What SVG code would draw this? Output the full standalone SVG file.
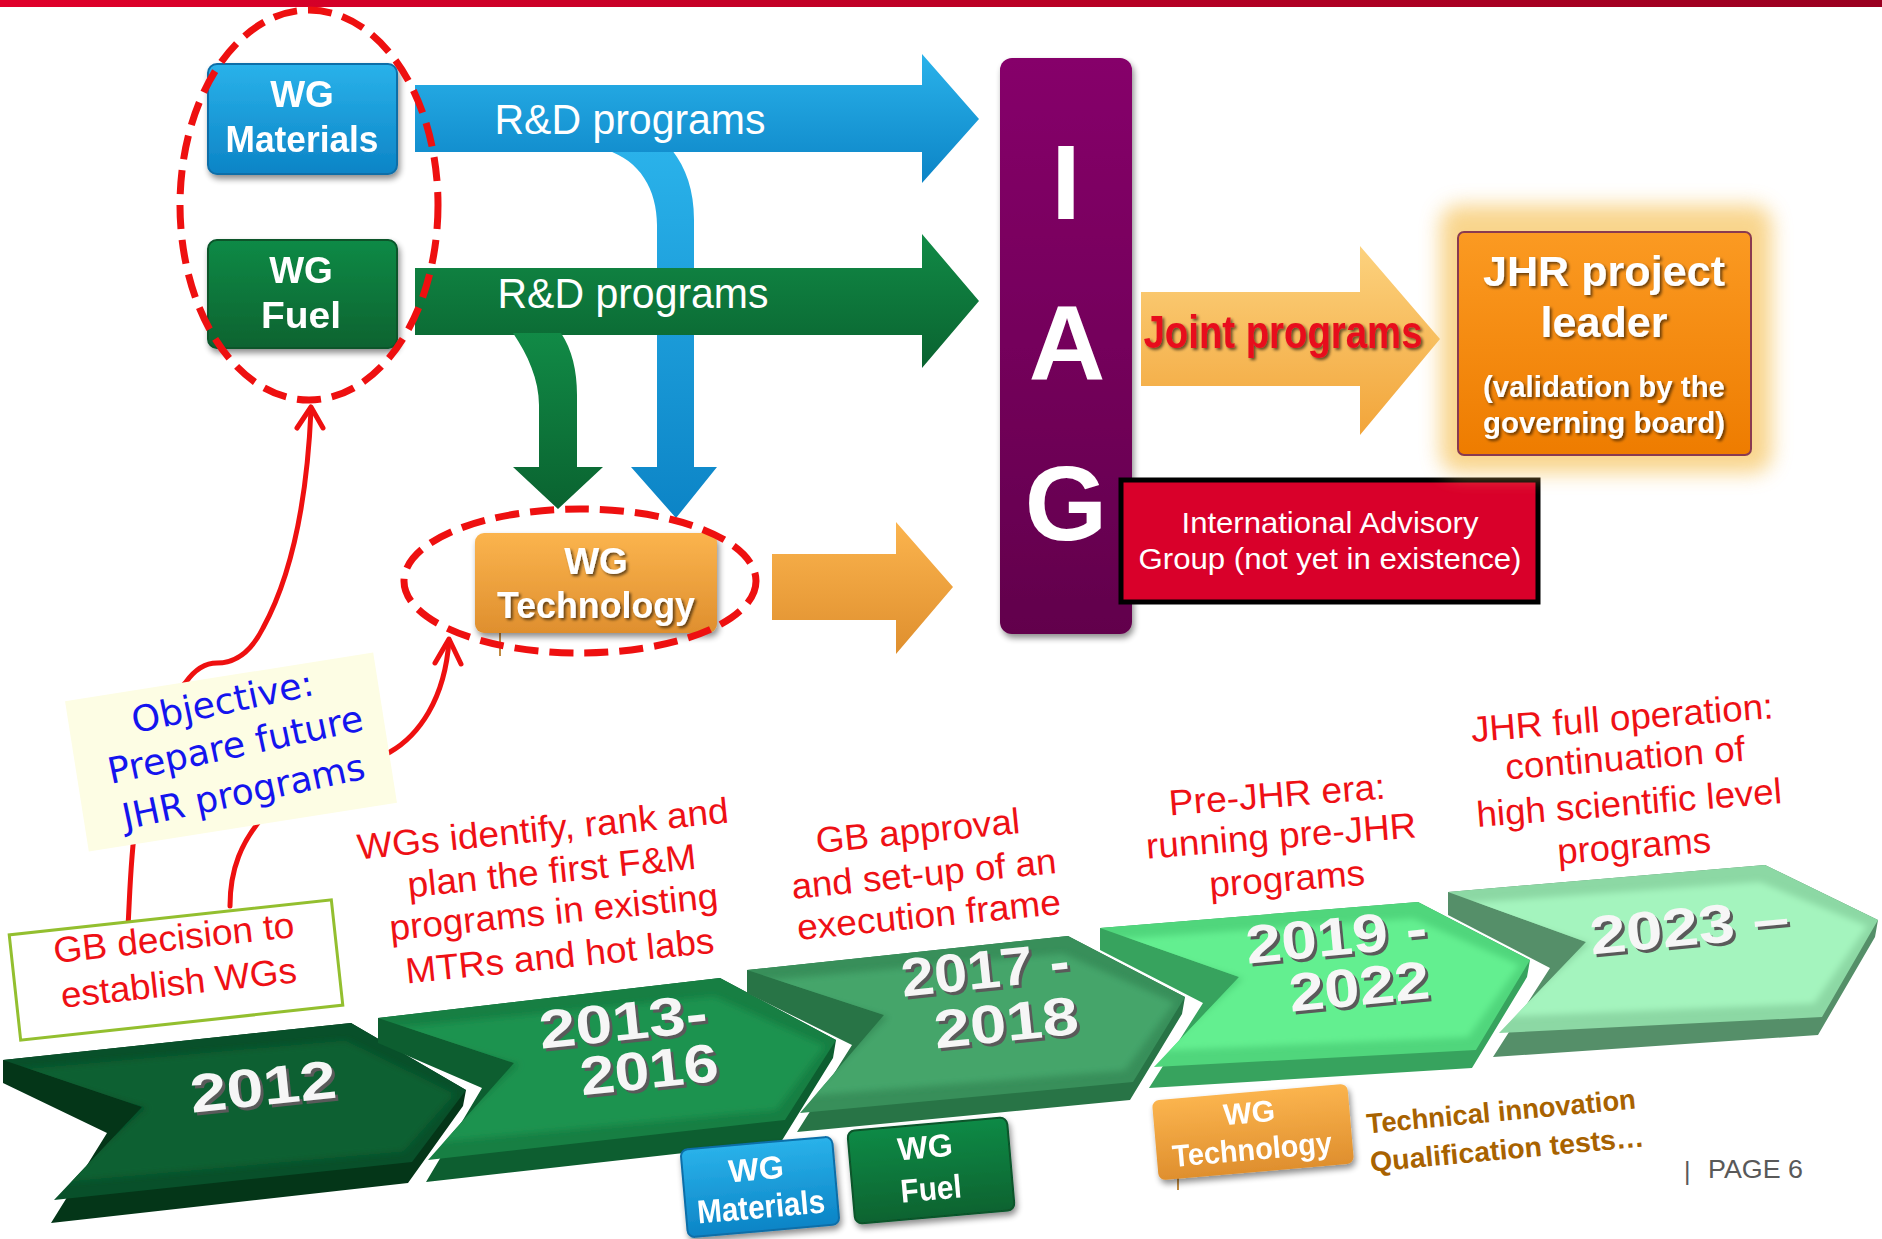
<svg xmlns="http://www.w3.org/2000/svg" width="1882" height="1239" viewBox="0 0 1882 1239">
<defs>
<style>
.t{font-family:"Liberation Sans",Arial,Helvetica,sans-serif}
.b{font-weight:bold}
.w{fill:#ffffff}
.lbl{font-family:"Liberation Sans",Arial,sans-serif;font-size:36px;fill:#ee1015;text-anchor:middle}
.yr{font-family:"Liberation Sans",Arial,sans-serif;font-size:54px;font-weight:bold;text-anchor:middle}
.ys{fill:#5a5a5a}
.yw{fill:#f6f6f6}
.box{font-family:"Liberation Sans",Arial,sans-serif;font-weight:bold;fill:#ffffff;text-anchor:middle}
.dash{fill:none;stroke:#ee1010;stroke-width:7;stroke-dasharray:24 11}
.curve{fill:none;stroke:#ee1010;stroke-width:5;stroke-linecap:round;stroke-linejoin:round}
.stub{stroke:#c08a40;stroke-width:2}
</style>
<linearGradient id="gBar" x1="0" y1="0" x2="1" y2="0"><stop offset="0" stop-color="#e0002a"/><stop offset="1" stop-color="#9a0020"/></linearGradient>
<linearGradient id="gBlue" x1="0" y1="0" x2="0" y2="1"><stop offset="0" stop-color="#2ab2ea"/><stop offset="1" stop-color="#0c84c6"/></linearGradient>
<linearGradient id="gGreen" x1="0" y1="0" x2="0" y2="1"><stop offset="0" stop-color="#118a46"/><stop offset="1" stop-color="#0a6330"/></linearGradient>
<linearGradient id="gOrange" x1="0" y1="0" x2="0" y2="1"><stop offset="0" stop-color="#fbb44e"/><stop offset="1" stop-color="#df8f2e"/></linearGradient>
<linearGradient id="gJoint" x1="0" y1="0" x2="0" y2="1"><stop offset="0" stop-color="#fcd27e"/><stop offset="1" stop-color="#f2a53a"/></linearGradient>
<linearGradient id="gPurple" x1="0" y1="0" x2="0" y2="1"><stop offset="0" stop-color="#86006a"/><stop offset="1" stop-color="#62004c"/></linearGradient>
<linearGradient id="gJhr" x1="0" y1="0" x2="0" y2="1"><stop offset="0" stop-color="#fb9a22"/><stop offset="1" stop-color="#ee7c00"/></linearGradient>
<filter id="sh" x="-20%" y="-20%" width="140%" height="150%"><feGaussianBlur in="SourceAlpha" stdDeviation="3"/><feOffset dx="2" dy="4"/><feComponentTransfer><feFuncA type="linear" slope="0.45"/></feComponentTransfer><feMerge><feMergeNode/><feMergeNode in="SourceGraphic"/></feMerge></filter>
<filter id="glow" x="-30%" y="-30%" width="160%" height="160%"><feGaussianBlur stdDeviation="10"/></filter>
<filter id="soft" x="-10%" y="-20%" width="120%" height="140%"><feGaussianBlur stdDeviation="4"/></filter>
<filter id="tsh" x="-10%" y="-20%" width="120%" height="150%"><feGaussianBlur in="SourceAlpha" stdDeviation="1.5"/><feOffset dx="2" dy="2"/><feComponentTransfer><feFuncA type="linear" slope="0.6"/></feComponentTransfer><feMerge><feMergeNode/><feMergeNode in="SourceGraphic"/></feMerge></filter>
<clipPath id="c1"><polygon points="3,1060 351,1023 466,1090 412,1162 54,1200 142,1107"/></clipPath>
<clipPath id="c2"><polygon points="378,1018 720,978 836,1040 785,1120 428,1160 514,1063"/></clipPath>
<clipPath id="c3"><polygon points="747,970 1068,936 1185,997 1133,1082 800,1113 884,1015"/></clipPath>
<clipPath id="c4"><polygon points="1100,928 1418,902 1530,960 1476,1050 1154,1067 1239,977"/></clipPath>
<clipPath id="c5"><polygon points="1448,892 1765,865 1878,920 1822,1017 1499,1033 1586,942"/></clipPath>
</defs>
<rect width="1882" height="1239" fill="#ffffff"/>
<rect id="topbar" x="0" y="0" width="1882" height="7" fill="url(#gBar)"/>

<g id="connectors">
  <path id="blue-branch" d="M606,150 C640,160 657,190 657,225 L657,467 L631,467 L676,518 L717,467 L694,467 L694,220 C694,190 686,168 672,150 Z" fill="url(#gBlue)"/>
  <g id="blue-rd">
    <polygon points="415,85 922,85 922,54 979,119 922,183 922,152 415,152" fill="url(#gBlue)"/>
    <text class="t" x="630" y="134" font-size="43" fill="#ffffff" text-anchor="middle" textLength="271" lengthAdjust="spacingAndGlyphs">R&amp;D programs</text>
  </g>
  <g id="green-rd">
    <polygon points="415,268 922,268 922,234 979,301 922,368 922,335 415,335" fill="url(#gGreen)"/>
    <text class="t" x="633" y="308" font-size="43" fill="#ffffff" text-anchor="middle" textLength="271" lengthAdjust="spacingAndGlyphs">R&amp;D programs</text>
  </g>
  <path id="green-branch" d="M513,333 C528,355 539,380 539,405 L539,467 L513,467 L558,509 L603,467 L577,467 L577,395 C577,370 572,350 561,333 Z" fill="url(#gGreen)"/>
  <polygon id="tech-arrow" points="772,554 896,554 896,522 953,587 896,654 896,620 772,620" fill="url(#gOrange)"/>
  <g id="joint-arrow">
    <polygon points="1141,292 1360,292 1360,246 1440,339 1360,435 1360,386 1141,386" fill="url(#gJoint)"/>
    <text class="t b" x="1283" y="348" font-size="46" fill="#e8101e" text-anchor="middle" textLength="279" lengthAdjust="spacingAndGlyphs" filter="url(#tsh)">Joint programs</text>
  </g>
  <path class="curve" d="M128,926 C131,880 130,800 160,720 C170,700 178,690 186,682 C196,668 206,663 217,663 C238,663 252,650 263,628 C292,575 307,500 311,410"/>
  <path class="curve" d="M297,428 L311,407 L323,428"/>
  <path class="curve" d="M230,906 C230,868 242,842 262,818 C300,780 350,775 390,752 C418,736 445,700 449,640"/>
  <path class="curve" d="M435,663 L449,639 L461,664"/>
</g>

<g id="wg-materials" filter="url(#sh)">
  <rect x="208" y="64" width="189" height="110" rx="9" fill="url(#gBlue)" stroke="#0a6ea8" stroke-width="2"/>
  <text class="box" x="302" y="107" font-size="37">WG</text>
  <text class="box" x="302" y="152" font-size="37" textLength="153" lengthAdjust="spacingAndGlyphs">Materials</text>
</g>
<g id="wg-fuel" filter="url(#sh)">
  <rect x="208" y="240" width="189" height="108" rx="9" fill="url(#gGreen)" stroke="#07542a" stroke-width="2"/>
  <text class="box" x="301" y="283" font-size="37">WG</text>
  <text class="box" x="301" y="328" font-size="37" textLength="80" lengthAdjust="spacingAndGlyphs">Fuel</text>
</g>
<g id="wg-technology">
  <line class="stub" x1="500" y1="632" x2="500" y2="656"/>
  <g filter="url(#sh)">
  <rect x="475" y="533" width="242" height="100" rx="9" fill="url(#gOrange)"/>
  <text class="box" x="596" y="574" font-size="37" filter="url(#tsh)">WG</text>
  <text class="box" x="596" y="618" font-size="37" textLength="198" lengthAdjust="spacingAndGlyphs" filter="url(#tsh)">Technology</text>
  </g>
</g>
<ellipse class="dash" cx="309" cy="205" rx="129" ry="195"/>
<ellipse class="dash" cx="580" cy="581" rx="176" ry="72"/>

<g id="iag" filter="url(#sh)">
  <rect x="1000" y="58" width="132" height="576" rx="12" fill="url(#gPurple)"/>
  <text class="box" x="1066" y="219" font-size="106">I</text>
  <text class="box" x="1067" y="380" font-size="106">A</text>
  <text class="box" x="1066" y="540" font-size="106">G</text>
</g>
<g id="iag-desc">
  <rect x="1121" y="480" width="417" height="122" fill="#d9002a" stroke="#000000" stroke-width="5"/>
  <text class="t w" x="1330" y="533" font-size="29" text-anchor="middle" textLength="297" lengthAdjust="spacingAndGlyphs">International Advisory</text>
  <text class="t w" x="1330" y="569" font-size="29" text-anchor="middle" textLength="383" lengthAdjust="spacingAndGlyphs">Group (not yet in existence)</text>
</g>
<g id="jhr-leader">
  <rect x="1440" y="205" width="332" height="268" rx="20" fill="#f7c868" opacity="0.75" filter="url(#glow)"/>
  <rect x="1458" y="232" width="293" height="223" rx="6" fill="url(#gJhr)" stroke="#8a3a50" stroke-width="2"/>
  <g filter="url(#tsh)">
  <text class="box" x="1604" y="286" font-size="42" textLength="242" lengthAdjust="spacingAndGlyphs">JHR project</text>
  <text class="box" x="1604" y="337" font-size="42" textLength="127" lengthAdjust="spacingAndGlyphs">leader</text>
  <text class="box" x="1604" y="397" font-size="30" textLength="242" lengthAdjust="spacingAndGlyphs">(validation by the</text>
  <text class="box" x="1604" y="433" font-size="30" textLength="242" lengthAdjust="spacingAndGlyphs">governing board)</text>
  </g>
</g>

<g id="objective">
  <rect x="75" y="676" width="312" height="152" fill="#fdfde4" transform="rotate(-9 231 752)"/>
  <g font-family="'DejaVu Sans',Verdana,sans-serif" font-size="36" fill="#1414ee" text-anchor="middle">
    <text x="225" y="714" transform="rotate(-12 225 714)" textLength="185" lengthAdjust="spacingAndGlyphs">Objective:</text>
    <text x="238" y="757" transform="rotate(-12 238 757)" textLength="260" lengthAdjust="spacingAndGlyphs">Prepare future</text>
    <text x="246" y="804" transform="rotate(-12 246 804)" textLength="247" lengthAdjust="spacingAndGlyphs">JHR programs</text>
  </g>
</g>
<g id="gb-decision">
  <rect x="14" y="917" width="324" height="106" fill="#ffffff" stroke="#93bf2f" stroke-width="3" transform="rotate(-6.2 176 970)"/>
  <text class="lbl" x="175" y="950" font-size="34" transform="rotate(-6.2 175 950)" textLength="242" lengthAdjust="spacingAndGlyphs">GB decision to</text>
  <text class="lbl" x="180" y="995" font-size="34" transform="rotate(-6.2 180 995)" textLength="237" lengthAdjust="spacingAndGlyphs">establish WGs</text>
</g>

<g id="step-2012">
  <polygon points="3,1060 351,1023 466,1090 463,1106 408,1183 51,1223 107,1133 3,1083" fill="#043618"/>
  <polygon points="3,1060 351,1023 466,1090 412,1162 54,1200 142,1107" fill="#08502a"/>
  <g clip-path="url(#c1)"><polygon points="3,1060 351,1023 466,1090 412,1162 54,1200 142,1107" fill="#0b6132" filter="url(#soft)" transform="translate(240 1110) scale(0.95 0.8) translate(-240 -1110)"/></g>
  <text class="yr ys" x="268" y="1108" transform="rotate(-6 268 1108)" textLength="147" lengthAdjust="spacingAndGlyphs">2012</text>
  <text class="yr yw" x="265" y="1105" transform="rotate(-6 265 1105)" textLength="147" lengthAdjust="spacingAndGlyphs">2012</text>
</g>
<g id="step-2013">
  <polygon points="378,1018 720,978 836,1040 833,1058 781,1142 426,1182 482,1088 378,1043" fill="#0d5e30"/>
  <polygon points="378,1018 720,978 836,1040 785,1120 428,1160 514,1063" fill="#177f43"/>
  <g clip-path="url(#c2)"><polygon points="378,1018 720,978 836,1040 785,1120 428,1160 514,1063" fill="#1d934f" filter="url(#soft)" transform="translate(610 1070) scale(0.95 0.8) translate(-610 -1070)"/></g>
  <text class="yr ys" x="628" y="1043" transform="rotate(-6 628 1043)" textLength="169" lengthAdjust="spacingAndGlyphs">2013-</text>
  <text class="yr yw" x="625" y="1040" transform="rotate(-6 625 1040)" textLength="169" lengthAdjust="spacingAndGlyphs">2013-</text>
  <text class="yr ys" x="654" y="1091" transform="rotate(-6 654 1091)" textLength="139" lengthAdjust="spacingAndGlyphs">2016</text>
  <text class="yr yw" x="651" y="1088" transform="rotate(-6 651 1088)" textLength="139" lengthAdjust="spacingAndGlyphs">2016</text>
</g>
<g id="step-2017">
  <polygon points="747,970 1068,936 1185,997 1182,1014 1130,1100 797,1132 852,1045 747,993" fill="#287446"/>
  <polygon points="747,970 1068,936 1185,997 1133,1082 800,1113 884,1015" fill="#388f5a"/>
  <g clip-path="url(#c3)"><polygon points="747,970 1068,936 1185,997 1133,1082 800,1113 884,1015" fill="#44a56a" filter="url(#soft)" transform="translate(970 1025) scale(0.95 0.8) translate(-970 -1025)"/></g>
  <text class="yr ys" x="990" y="991" transform="rotate(-6 990 991)" textLength="169" lengthAdjust="spacingAndGlyphs">2017 -</text>
  <text class="yr yw" x="987" y="988" transform="rotate(-6 987 988)" textLength="169" lengthAdjust="spacingAndGlyphs">2017 -</text>
  <text class="yr ys" x="1011" y="1044" transform="rotate(-6 1011 1044)" textLength="145" lengthAdjust="spacingAndGlyphs">2018</text>
  <text class="yr yw" x="1008" y="1041" transform="rotate(-6 1008 1041)" textLength="145" lengthAdjust="spacingAndGlyphs">2018</text>
</g>
<g id="step-2019">
  <polygon points="1100,928 1418,902 1530,960 1527,977 1472,1068 1149,1088 1203,1003 1100,950" fill="#37a35e"/>
  <polygon points="1100,928 1418,902 1530,960 1476,1050 1154,1067 1239,977" fill="#50d67c"/>
  <g clip-path="url(#c4)"><polygon points="1100,928 1418,902 1530,960 1476,1050 1154,1067 1239,977" fill="#64ef90" filter="url(#soft)" transform="translate(1320 985) scale(0.95 0.8) translate(-1320 -985)"/></g>
  <text class="yr ys" x="1341" y="958" transform="rotate(-5.5 1341 958)" textLength="182" lengthAdjust="spacingAndGlyphs">2019 -</text>
  <text class="yr yw" x="1338" y="955" transform="rotate(-5.5 1338 955)" textLength="182" lengthAdjust="spacingAndGlyphs">2019 -</text>
  <text class="yr ys" x="1364" y="1008" transform="rotate(-5.5 1364 1008)" textLength="141" lengthAdjust="spacingAndGlyphs">2022</text>
  <text class="yr yw" x="1361" y="1005" transform="rotate(-5.5 1361 1005)" textLength="141" lengthAdjust="spacingAndGlyphs">2022</text>
</g>
<g id="step-2023">
  <polygon points="1448,892 1765,865 1878,920 1875,937 1818,1035 1493,1057 1550,968 1448,915" fill="#558f69"/>
  <polygon points="1448,892 1765,865 1878,920 1822,1017 1499,1033 1586,942" fill="#8cd8a4"/>
  <g clip-path="url(#c5)"><polygon points="1448,892 1765,865 1878,920 1822,1017 1499,1033 1586,942" fill="#a4f4be" filter="url(#soft)" transform="translate(1665 950) scale(0.95 0.8) translate(-1665 -950)"/></g>
  <text class="yr ys" x="1694" y="948" transform="rotate(-5.5 1694 948)" textLength="200" lengthAdjust="spacingAndGlyphs">2023 –</text>
  <text class="yr yw" x="1691" y="945" transform="rotate(-5.5 1691 945)" textLength="200" lengthAdjust="spacingAndGlyphs">2023 –</text>
</g>

<g id="text-2013">
  <text class="lbl" x="544" y="841" transform="rotate(-5.7 544 841)" textLength="373" lengthAdjust="spacingAndGlyphs">WGs identify, rank and</text>
  <text class="lbl" x="553" y="883" transform="rotate(-5.7 553 883)" textLength="290" lengthAdjust="spacingAndGlyphs">plan the first F&amp;M</text>
  <text class="lbl" x="555" y="924" transform="rotate(-5.7 555 924)" textLength="330" lengthAdjust="spacingAndGlyphs">programs in existing</text>
  <text class="lbl" x="561" y="968" transform="rotate(-5.7 561 968)" textLength="310" lengthAdjust="spacingAndGlyphs">MTRs and hot labs</text>
</g>
<g id="text-2017">
  <text class="lbl" x="919" y="843" transform="rotate(-5.6 919 843)" textLength="205" lengthAdjust="spacingAndGlyphs">GB approval</text>
  <text class="lbl" x="925" y="886" transform="rotate(-5.6 925 886)" textLength="266" lengthAdjust="spacingAndGlyphs">and set-up of an</text>
  <text class="lbl" x="930" y="927" transform="rotate(-5.6 930 927)" textLength="265" lengthAdjust="spacingAndGlyphs">execution frame</text>
</g>
<g id="text-2019">
  <text class="lbl" x="1278" y="807" transform="rotate(-4.5 1278 807)" textLength="217" lengthAdjust="spacingAndGlyphs">Pre-JHR era:</text>
  <text class="lbl" x="1282" y="848" transform="rotate(-4.5 1282 848)" textLength="271" lengthAdjust="spacingAndGlyphs">running pre-JHR</text>
  <text class="lbl" x="1288" y="891" transform="rotate(-4.5 1288 891)" textLength="156" lengthAdjust="spacingAndGlyphs">programs</text>
</g>
<g id="text-2023">
  <text class="lbl" x="1623" y="730" transform="rotate(-4.5 1623 730)" textLength="303" lengthAdjust="spacingAndGlyphs">JHR full operation:</text>
  <text class="lbl" x="1626" y="770" transform="rotate(-4.5 1626 770)" textLength="240" lengthAdjust="spacingAndGlyphs">continuation of</text>
  <text class="lbl" x="1630" y="815" transform="rotate(-4.5 1630 815)" textLength="306" lengthAdjust="spacingAndGlyphs">high scientific level</text>
  <text class="lbl" x="1635" y="858" transform="rotate(-4.5 1635 858)" textLength="154" lengthAdjust="spacingAndGlyphs">programs</text>
</g>

<g id="wg-materials-2" filter="url(#sh)">
  <g transform="rotate(-5 760 1187)">
    <rect x="684" y="1143" width="152" height="88" rx="7" fill="url(#gBlue)" stroke="#0a6ea8" stroke-width="2"/>
  </g>
  <text class="box" x="757" y="1180" font-size="32" transform="rotate(-5 757 1180)">WG</text>
  <text class="box" x="762" y="1218" font-size="33" transform="rotate(-5 762 1218)" textLength="128" lengthAdjust="spacingAndGlyphs">Materials</text>
</g>
<g id="wg-fuel-2" filter="url(#sh)">
  <g transform="rotate(-5 931 1170)">
    <rect x="851" y="1124" width="160" height="93" rx="7" fill="url(#gGreen)" stroke="#07542a" stroke-width="2"/>
  </g>
  <text class="box" x="926" y="1158" font-size="32" transform="rotate(-5 926 1158)">WG</text>
  <text class="box" x="932" y="1200" font-size="33" transform="rotate(-5 932 1200)" textLength="61" lengthAdjust="spacingAndGlyphs">Fuel</text>
</g>
<g id="wg-technology-2">
  <line class="stub" x1="1178" y1="1176" x2="1178" y2="1190"/>
  <g filter="url(#sh)">
  <g transform="rotate(-5 1253 1132)">
    <rect x="1155" y="1092" width="196" height="80" rx="7" fill="url(#gOrange)"/>
  </g>
  <text class="box" x="1250" y="1123" font-size="30" transform="rotate(-5 1250 1123)">WG</text>
  <text class="box" x="1253" y="1160" font-size="31" transform="rotate(-5 1253 1160)" textLength="160" lengthAdjust="spacingAndGlyphs">Technology</text>
  </g>
</g>
<g id="tech-note" class="t b" fill="#a86200" font-size="28" text-anchor="middle">
  <text x="1502" y="1121" transform="rotate(-5.3 1502 1121)" textLength="270" lengthAdjust="spacingAndGlyphs">Technical innovation</text>
  <text x="1508" y="1159" transform="rotate(-5.3 1508 1159)" textLength="275" lengthAdjust="spacingAndGlyphs">Qualification tests…</text>
</g>
<g id="page" class="t" fill="#595959" font-size="25">
  <text x="1684" y="1180">|</text>
  <text x="1708" y="1178" textLength="95" lengthAdjust="spacingAndGlyphs">PAGE 6</text>
</g>
</svg>
